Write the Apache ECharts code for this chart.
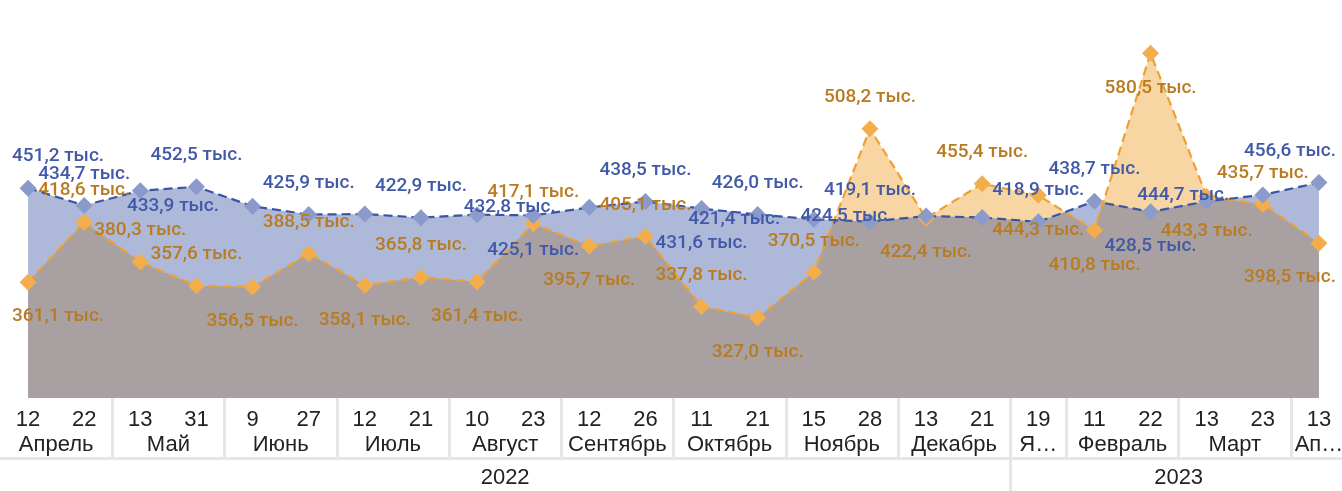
<!DOCTYPE html>
<html>
<head>
<meta charset="utf-8">
<script src="https://cdn.jsdelivr.net/npm/echarts@6/dist/echarts.min.js"></script>
<style>
  html, body { margin: 0; padding: 0; background: #ffffff; }
  #chart { width: 1342px; height: 491px; }
</style>
</head>
<body>
<div id="chart"></div>
<script>
// ---- data ----
const dates = [
  '2022-04-12', '2022-04-22', '2022-05-13', '2022-05-31', '2022-06-09', '2022-06-27',
  '2022-07-12', '2022-07-21', '2022-08-10', '2022-08-23', '2022-09-12', '2022-09-26',
  '2022-10-11', '2022-10-21', '2022-11-15', '2022-11-28', '2022-12-13', '2022-12-21',
  '2023-01-19', '2023-02-11', '2023-02-22', '2023-03-13', '2023-03-23', '2023-04-13'
];

// blue series, thousands
const seriesA = [
  451.2, 434.7, 448.8, 452.5, 433.9, 425.9, 426.4, 422.9, 425.8, 425.1, 432.8, 438.5,
  431.6, 426.0, 421.4, 419.1, 424.5, 423.1, 418.9, 438.7, 428.5, 438.6, 444.7, 456.6
];

// orange series, thousands
const seriesB = [
  361.1, 418.6, 380.3, 357.6, 356.5, 388.5, 358.1, 365.8, 361.4, 417.1, 395.7, 405.1,
  337.8, 327.0, 370.5, 508.2, 422.4, 455.4, 444.3, 410.8, 580.5, 443.3, 435.7, 398.5
];

const monthLabels = [
  'Апрель', 'Май', 'Июнь', 'Июль', 'Август', 'Сентябрь', 'Октябрь', 'Ноябрь',
  'Декабрь', 'Я…', 'Февраль', 'Март', 'Ап…'
];
const yearLabels = ['2022', '2023'];

// ---- label placement per point: t = above, b = below, l = left, - = hidden ----
const placeA = ['t','t','-','t','l','t','-','t','-','b','l','t','b','t','l','t','l','-','t','t','b','-','l','t'];
const placeB = ['b','t','t','t','b','t','b','t','b','t','b','t','t','b','t','t','b','t','b','b','b','b','t','b'];

// ---- styles ----
const Y_MIN = 250, Y_MAX = 600;
const AXIS_FONT = '"Liberation Sans", Arial, sans-serif';
const LABEL_FONT = 'Roboto, "Noto Sans", sans-serif';
const BLUE_FILL = '#AEB9D9', ORANGE_FILL = '#F7D6A3', OVERLAP_FILL = '#A9A1A1';
const BLUE_LINE = '#3B55A5', BLUE_MARK = '#8A9BCB', BLUE_TEXT = '#4159A8';
const ORANGE_LINE = '#F0A030', ORANGE_MARK = '#F3AE4B', ORANGE_TEXT = '#B97B20';
const SEP = '#E6E6E6';
const LABEL_MIN_X = 12, LABEL_MAX_X = 1336;

const n = dates.length;

// month and year runs along the category axis
function runs(keyOf) {
  const out = [];
  dates.forEach((d, i) => {
    const k = keyOf(d);
    if (out.length && out[out.length - 1].key === k) out[out.length - 1].end = i;
    else out.push({ key: k, start: i, end: i });
  });
  return out;
}
const monthRuns = runs(d => d.slice(0, 7));
const yearRuns = runs(d => d.slice(0, 4));
const center = r => (r.start + r.end) / 2;
const monthCenters = monthRuns.map(center);
const monthBounds = monthRuns.slice(0, -1).map(r => r.end + 0.5);
const yearCenters = yearRuns.map(center);
const yearBounds = yearRuns.slice(0, -1).map(r => r.end + 0.5);

function pickLabel(centers, labels) {
  return v => {
    let best = 0;
    centers.forEach((c, i) => { if (Math.abs(c - v) < Math.abs(centers[best] - v)) best = i; });
    return labels[best];
  };
}

const fmt = v => v.toFixed(1).replace('.', ',') + ' тыс.';

function labelFor(code) {
  if (code === '-') return { show: false };
  if (code === 't') return { show: true, position: 'top', distance: 13 };
  if (code === 'b') return { show: true, position: 'bottom', distance: 16 };
  return { show: true, position: 'left', distance: 25 };
}

// keep labels of the edge points inside the drawing area
function clampLabel(params) {
  const r = params.labelRect;
  if (r.x < LABEL_MIN_X) return { dx: LABEL_MIN_X - r.x };
  if (r.x + r.width > LABEL_MAX_X) return { dx: LABEL_MAX_X - r.x - r.width };
  return {};
}

function lineSeries(name, values, places, lineColor, markColor, textColor) {
  return {
    name: name,
    type: 'line',
    z: 3,
    data: values.map((v, i) => ({ value: v, label: labelFor(places[i]) })),
    symbol: 'diamond',
    symbolSize: 17,
    showAllSymbol: true,
    itemStyle: { color: markColor },
    lineStyle: { color: lineColor, width: 2.2, type: [9, 5] },
    label: {
      show: true,
      formatter: p => fmt(p.value),
      color: textColor,
      fontFamily: LABEL_FONT,
      fontWeight: 500,
      fontSize: 19,
      lineHeight: 20
    },
    labelLayout: clampLabel,
    emphasis: { disabled: true },
    animation: false
  };
}

function areaSeries(values, fill) {
  return {
    type: 'line',
    z: 1,
    data: values,
    symbol: 'none',
    lineStyle: { width: 0, opacity: 0 },
    areaStyle: { color: fill, opacity: 1, origin: 'start' },
    silent: true,
    animation: false
  };
}

// region lying under both series
const overlapSeries = {
  type: 'custom',
  z: 2,
  silent: true,
  animation: false,
  data: [[0, Y_MIN]],
  renderItem: function (params, api) {
    const pts = [];
    for (let i = 0; i < n; i++) {
      const pa = api.coord([i, seriesA[i]]);
      const pb = api.coord([i, seriesB[i]]);
      pts.push(pa[1] > pb[1] ? pa : pb);
      if (i < n - 1) {
        const d0 = seriesA[i] - seriesB[i];
        const d1 = seriesA[i + 1] - seriesB[i + 1];
        if (d0 * d1 < 0) {
          const t = d0 / (d0 - d1);
          const qa = api.coord([i + 1, seriesA[i + 1]]);
          pts.push([pa[0] + (qa[0] - pa[0]) * t, pa[1] + (qa[1] - pa[1]) * t]);
        }
      }
    }
    pts.push(api.coord([n - 1, Y_MIN]));
    pts.push(api.coord([0, Y_MIN]));
    return { type: 'polygon', shape: { points: pts }, style: { fill: OVERLAP_FILL } };
  }
};

const axisText = { fontFamily: AXIS_FONT, fontSize: 22, color: '#222222' };

const chart = echarts.init(document.getElementById('chart'), null, { renderer: 'canvas' });
chart.setOption({
  animation: false,
  grid: { left: 0, width: 1347, top: 33, bottom: 93, containLabel: false, outerBoundsMode: 'none' },
  xAxis: [
    {
      type: 'category',
      data: dates,
      boundaryGap: true,
      axisLine: { show: false },
      axisTick: { show: false },
      axisLabel: Object.assign({ interval: 0, margin: 11, formatter: v => String(Number(v.slice(8))) }, axisText)
    },
    {
      type: 'value',
      min: -0.5, max: n - 0.5,
      position: 'bottom',
      axisLine: { show: false },
      splitLine: { show: false },
      axisTick: { show: true, customValues: monthBounds, length: 60, lineStyle: { color: SEP, width: 3 } },
      axisLabel: Object.assign({ customValues: monthCenters, margin: 36, formatter: pickLabel(monthCenters, monthLabels) }, axisText)
    },
    {
      type: 'value',
      min: -0.5, max: n - 0.5,
      position: 'bottom',
      offset: 60,
      axisLine: { show: true, lineStyle: { color: SEP, width: 3 } },
      splitLine: { show: false },
      axisTick: { show: true, customValues: yearBounds, length: 33, lineStyle: { color: SEP, width: 3 } },
      axisLabel: Object.assign({ customValues: yearCenters, margin: 9, formatter: pickLabel(yearCenters, yearLabels) }, axisText)
    }
  ],
  yAxis: { type: 'value', min: Y_MIN, max: Y_MAX, show: false },
  series: [
    areaSeries(seriesB, ORANGE_FILL),
    areaSeries(seriesA, BLUE_FILL),
    overlapSeries,
    lineSeries('Ряд 2', seriesB, placeB, ORANGE_LINE, ORANGE_MARK, ORANGE_TEXT),
    lineSeries('Ряд 1', seriesA, placeA, BLUE_LINE, BLUE_MARK, BLUE_TEXT)
  ]
});
</script>
</body>
</html>
